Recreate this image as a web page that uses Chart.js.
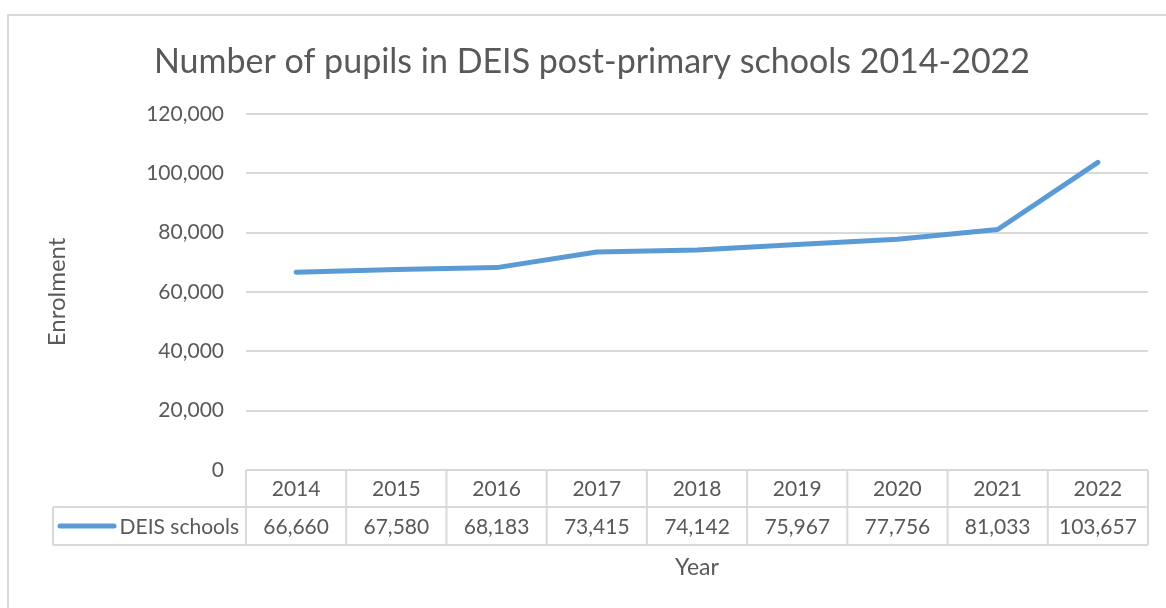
<!DOCTYPE html>
<html>
<head>
<meta charset="utf-8">
<title>DEIS post-primary enrolment</title>
<script src="https://cdn.jsdelivr.net/npm/chart.js@4/dist/chart.umd.min.js"></script>
<style>
  html, body { margin: 0; padding: 0; background: #fff; }
  #wrap { width: 1166px; height: 608px; position: relative; }
</style>
</head>
<body>
<div id="wrap"><canvas id="deisChart" width="1166" height="608"></canvas></div>
<script>
// data
const years = ['2014', '2015', '2016', '2017', '2018', '2019', '2020', '2021', '2022'];
const deisPupils = [66660, 67580, 68183, 73415, 74142, 75967, 77756, 81033, 103657];
const seriesName = 'DEIS schools';

const FONT = 'Lato, "Open Sans", sans-serif';
const TEXT = '#595959';
const GRID = '#d9d9d9';
const LINE = '#5b9bd5';

const fmt = v => Number(v).toLocaleString('en-US');

// border around the whole chart + data table under the x axis
const tablePlugin = {
    id: 'dataTable',
    beforeDraw(chart) {
        const ctx = chart.ctx;
        ctx.save();
        ctx.fillStyle = '#fff';
        ctx.fillRect(0, 0, chart.width, chart.height);
        ctx.strokeStyle = GRID;
        ctx.lineWidth = 2;
        ctx.strokeRect(8, 15, chart.width + 20, chart.height + 20);
        ctx.restore();
    },
    afterDraw(chart) {
        const ctx = chart.ctx;
        const area = chart.chartArea;
        const x = chart.scales.x;
        const rowTop = area.bottom, rowMid = area.bottom + 37, rowBot = area.bottom + 75;
        const legendLeft = 53;
        const colW = (area.right - area.left) / years.length;

        ctx.save();
        ctx.strokeStyle = GRID;
        ctx.lineWidth = 2;
        ctx.beginPath();
        // horizontal lines
        ctx.moveTo(area.left, rowTop); ctx.lineTo(area.right, rowTop);
        ctx.moveTo(legendLeft, rowMid); ctx.lineTo(area.right, rowMid);
        ctx.moveTo(legendLeft, rowBot); ctx.lineTo(area.right, rowBot);
        // vertical lines
        ctx.moveTo(legendLeft, rowMid); ctx.lineTo(legendLeft, rowBot);
        for (let i = 0; i <= years.length; i++) {
            const xx = area.left + i * colW;
            ctx.moveTo(xx, rowTop); ctx.lineTo(xx, rowBot);
        }
        ctx.stroke();

        ctx.fillStyle = TEXT;
        ctx.font = '21px ' + FONT;
        ctx.textAlign = 'center';
        ctx.textBaseline = 'middle';
        years.forEach((y, i) => {
            const cx = x.getPixelForValue(i);
            ctx.fillText(y, cx, (rowTop + rowMid) / 2 + 1);
            ctx.fillText(fmt(deisPupils[i]), cx, (rowMid + rowBot) / 2 + 1);
        });

        // legend key in the first cell
        ctx.strokeStyle = LINE;
        ctx.lineWidth = 5;
        ctx.lineCap = 'round';
        ctx.beginPath();
        ctx.moveTo(60, (rowMid + rowBot) / 2);
        ctx.lineTo(114, (rowMid + rowBot) / 2);
        ctx.stroke();
        ctx.textAlign = 'right';
        ctx.fillText(seriesName, area.left - 7, (rowMid + rowBot) / 2 + 1);

        // x axis title
        ctx.textAlign = 'center';
        ctx.font = '23px ' + FONT;
        ctx.fillText('Year', (area.left + area.right) / 2, rowBot + 23);
        ctx.restore();
    }
};

const ctx = document.getElementById('deisChart').getContext('2d');
new Chart(ctx, {
    type: 'line',
    data: {
        labels: years,
        datasets: [{
            label: seriesName,
            data: deisPupils,
            borderColor: LINE,
            borderWidth: 5,
            pointRadius: 0,
            tension: 0,
            borderCapStyle: 'round',
            borderJoinStyle: 'round',
            fill: false
        }]
    },
    options: {
        responsive: false,
        animation: false,
        layout: { padding: { top: 18, left: 36, right: 18, bottom: 138 } },
        scales: {
            x: { display: false, offset: true },
            y: {
                min: 0,
                max: 120000,
                ticks: {
                    stepSize: 20000,
                    color: TEXT,
                    font: { family: FONT, size: 21 },
                    padding: 22,
                    callback: v => fmt(v)
                },
                grid: { color: GRID, lineWidth: 2, drawTicks: false },
                border: { display: false },
                title: {
                    display: true,
                    text: 'Enrolment',
                    color: TEXT,
                    font: { family: FONT, size: 24 },
                    padding: { top: 7, bottom: 0 }
                },
                afterFit(scale) { scale.width = 210; }
            }
        },
        plugins: {
            legend: { display: false },
            tooltip: { enabled: false },
            title: {
                display: true,
                text: 'Number of pupils in DEIS post-primary schools 2014-2022',
                color: TEXT,
                font: { family: FONT, size: 34, weight: 'normal' },
                padding: { top: 24, bottom: 31 }
            }
        }
    },
    plugins: [tablePlugin]
});
</script>
</body>
</html>
